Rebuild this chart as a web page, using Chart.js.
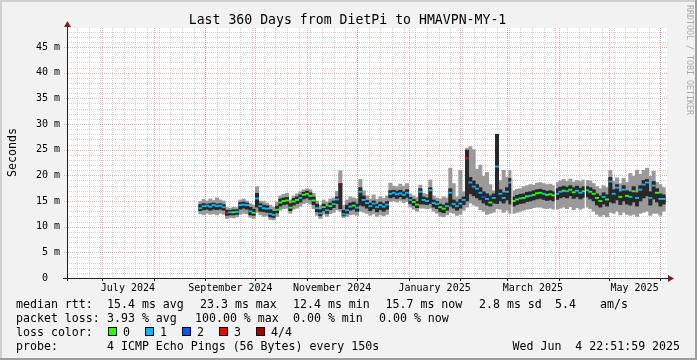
<!DOCTYPE html>
<html>
<head>
<meta charset="utf-8">
<script src="https://cdn.jsdelivr.net/npm/chart.js@4.4.1/dist/chart.umd.min.js"></script>
<style>
  html, body { margin: 0; padding: 0; background: #f2f2f2; }
  canvas { display: block; }
</style>
</head>
<body>
<canvas id="smoke" width="697" height="360"></canvas>
<script>
// ---- data ----
const title = 'Last 360 Days from DietPi to HMAVPN-MY-1';
const rangeStart = Date.UTC(2024, 5, 9, 22, 52);   // 360 days before Jun 4 2025 22:52
const rangeDays = 360;
const firstBinDay = 79;   // first bin with data, days after rangeStart
const binDays = 2;

// median rtt per 2-day bin, in ms
const median = [
  13.6,14.0,14.1,13.9,14.2,14.0,14.1,13.8,12.7,12.8,
  12.8,12.9,14.2,14.3,14.2,13.0,12.7,15.5,14.0,13.6,
  13.5,12.5,12.3,13.3,14.7,15.0,15.1,13.7,14.9,15.2,
  15.6,16.2,16.4,16.0,15.1,13.6,12.6,13.8,13.2,14.0,
  14.4,15.3,18.2,12.4,13.2,13.9,14.1,13.7,16.8,15.2,
  14.6,14.0,14.5,13.8,14.2,13.9,14.3,16.4,16.6,16.3,
  16.5,16.2,16.6,15.2,14.8,14.3,16.8,15.2,15.0,17.1,
  14.6,14.4,13.8,13.5,14.0,16.6,14.4,14.0,14.5,15.2,
  23.3,18.6,17.8,17.4,16.6,15.8,15.4,14.7,15.6,21.7,
  16.4,15.6,16.8,18.6,15.0,15.3,15.5,15.6,15.9,16.0,
  16.2,16.5,16.6,16.4,16.2,16.3,16.1,16.4,16.8,17.0,
  16.9,17.2,16.7,17.0,16.6,16.9,17.1,16.8,16.4,15.6,
  15.0,15.8,15.3,18.8,16.4,17.6,15.8,17.2,16.0,15.8,
  16.9,15.6,17.2,18.2,18.6,15.6,18.0,16.6,15.4,15.4
];
// outer (light) smoke
const smokeLo = [
  12.5,12.3,12.6,12.4,12.5,12.3,12.6,12.4,11.6,11.8,
  11.7,11.9,12.4,12.6,12.5,11.8,11.6,12.8,12.3,12.0,
  12.1,11.4,11.3,12.0,13.2,13.5,13.6,12.6,13.4,13.6,
  14.0,14.5,14.7,14.4,13.5,12.2,11.6,12.4,12.0,12.5,
  12.8,13.3,13.0,11.8,12.0,12.3,12.4,12.2,13.0,12.8,
  12.6,12.2,12.5,12.0,12.3,12.1,12.4,14.9,15.0,14.8,
  15.1,14.7,14.9,13.8,13.4,13.0,13.6,13.6,13.5,13.6,
  13.0,12.6,12.0,11.9,12.3,12.8,12.6,12.2,12.4,13.2,
  13.8,14.6,14.2,14.0,13.3,13.0,12.4,12.6,12.8,13.5,
  13.4,12.8,13.2,12.6,12.6,12.8,13.0,13.2,13.4,13.5,
  13.7,13.8,13.8,13.6,13.5,13.6,13.4,13.4,13.6,13.8,
  13.5,13.9,13.3,13.7,13.4,13.6,13.8,13.5,13.0,12.4,
  12.0,12.3,11.9,12.8,12.6,13.0,12.3,12.8,12.4,12.2,
  12.4,12.0,12.6,12.8,13.0,12.2,12.6,12.6,12.2,13.0
];
const smokeHi = [
  14.9,15.3,15.0,15.4,15.1,15.6,15.2,15.0,13.7,13.6,
  13.8,13.7,15.2,15.4,15.0,14.5,14.2,17.8,15.0,14.9,
  14.6,14.2,13.8,14.8,16.0,16.3,16.5,15.2,16.0,16.4,
  16.8,17.2,17.4,17.2,16.5,15.0,14.2,15.2,14.8,15.4,
  15.6,16.9,20.9,14.2,15.2,15.8,15.6,15.4,19.2,17.0,
  16.0,15.4,16.2,15.3,15.8,15.5,16.0,18.5,17.9,17.8,
  18.3,17.9,18.4,16.4,16.0,15.7,18.1,16.5,16.3,19.1,
  16.0,15.6,15.4,15.8,15.6,21.4,18.4,15.8,21.0,16.8,
  25.3,25.6,25.0,21.2,22.0,19.8,20.6,18.2,17.0,28.0,
  19.0,21.0,19.6,21.0,17.0,17.3,17.4,17.8,18.0,18.2,
  18.1,18.5,18.6,18.4,18.2,18.3,18.0,18.6,18.9,19.2,
  18.8,19.3,18.7,19.0,18.8,19.1,19.0,18.9,18.4,17.8,
  17.4,18.0,17.6,21.0,18.8,19.5,18.4,19.4,18.6,20.4,
  19.8,21.0,20.2,21.0,21.4,19.8,20.8,18.6,18.2,17.6
];
// inner (dark) smoke
const coreLo = [
  13.1,13.3,13.4,13.2,13.4,13.3,13.4,13.2,12.2,12.3,
  12.3,12.4,13.4,13.6,13.4,12.3,12.2,13.8,13.0,12.9,
  12.8,11.9,11.8,12.7,14.0,14.3,14.4,13.1,14.2,14.5,
  14.8,15.4,15.6,15.3,14.3,12.9,12.1,13.1,12.6,13.3,
  13.7,14.5,13.5,12.1,12.6,13.2,13.4,13.0,14.2,14.0,
  13.6,13.1,13.5,12.9,13.3,13.0,13.4,15.6,15.8,15.5,
  15.8,15.4,15.7,14.5,14.1,13.7,14.4,14.4,14.3,14.5,
  13.8,13.5,12.9,12.7,13.2,14.0,13.6,13.2,13.6,14.3,
  15.0,16.4,16.0,15.6,15.2,14.6,14.2,14.0,14.6,14.5,
  15.0,14.6,15.2,14.4,14.0,14.3,14.5,14.6,14.9,15.0,
  15.2,15.4,15.5,15.3,15.1,15.2,15.0,15.3,15.6,15.8,
  15.6,16.0,15.5,15.8,15.4,15.7,15.8,15.4,15.0,14.2,
  13.8,14.4,14.0,14.8,14.6,15.2,14.3,15.0,14.4,14.2,
  14.8,14.0,15.0,15.6,16.0,14.2,15.4,14.8,14.0,14.4
];
const coreHi = [
  14.3,14.5,14.4,14.5,14.6,14.4,14.5,14.3,13.2,13.2,
  13.3,13.3,14.7,14.8,14.6,13.8,13.4,16.5,14.5,14.2,
  14.1,13.3,13.0,14.0,15.4,15.6,15.7,14.5,15.5,15.8,
  16.2,16.7,16.9,16.6,15.8,14.4,13.3,14.4,13.9,14.6,
  15.0,15.8,18.4,13.2,14.2,14.6,14.8,14.4,17.6,16.0,
  15.1,14.6,15.0,14.4,14.8,14.5,14.9,17.0,17.1,16.9,
  17.1,16.8,17.2,15.7,15.3,14.9,17.4,15.8,15.6,17.6,
  15.2,14.9,14.4,14.2,14.6,17.4,15.2,14.8,15.3,15.8,
  24.9,19.6,18.9,18.2,17.6,16.8,16.4,16.0,16.4,28.0,
  17.2,16.6,17.6,19.4,15.8,16.1,16.3,16.4,16.7,16.8,
  17.0,17.2,17.3,17.1,16.9,17.0,16.8,17.4,17.7,17.9,
  17.7,18.0,17.6,17.9,17.5,17.8,17.8,17.6,17.2,16.4,
  16.0,16.6,16.2,19.6,17.2,18.2,16.8,18.0,17.0,16.8,
  17.8,16.6,18.0,19.0,19.2,16.8,18.8,17.4,16.4,16.2
];
// lost pings (of 4) per bin -> median colour
const lossCount = [
  1,1,1,1,1,1,1,1,3,1,
  0,1,1,1,1,1,0,1,1,1,
  1,1,1,0,0,0,0,0,0,0,
  1,0,0,0,0,1,1,0,1,0,
  1,1,4,1,1,1,0,1,1,1,
  1,1,1,1,1,1,1,1,1,1,
  1,1,1,1,0,0,1,1,1,1,
  1,1,0,0,1,1,1,1,1,1,
  3,1,1,1,1,2,1,0,1,1,
  1,1,1,1,0,0,1,0,0,1,
  0,0,0,1,0,0,0,1,1,0,
  1,0,0,1,1,0,1,0,0,0,
  0,1,0,1,1,1,0,1,0,1,
  0,1,1,1,1,1,1,0,1,1
];
const gapDays = [267, 293, 311];   // short outages in the data

const lossColors = ['#26ff00', '#00b8ff', '#0059ff', '#ff0000', '#a10000'];
const lossLabels = ['0', '1', '2', '3', '4/4'];

const yTicks = [0, 5, 10, 15, 20, 25, 30, 35, 40, 45];
const yMax = 48.7;
const tickMonths = [[2024, 6], [2024, 8], [2024, 10], [2025, 0], [2025, 2], [2025, 4]];
const tickLabels = ['July 2024', 'September 2024', 'November 2024', 'January 2025', 'March 2025', 'May 2025'];

// legend rows: [baseline, [[x, text], ...]]
const legendRows = [
  [307.7, [[16, 'median rtt:'], [107, '15.4 ms avg'], [200, '23.3 ms max'], [293, '12.4 ms min'],
           [385.5, '15.7 ms now'], [479, '2.8 ms sd'], [555, '5.4'], [600, 'am/s']]],
  [321.8, [[16, 'packet loss:'], [107, '3.93 % avg'], [195, '100.00 % max'], [293, '0.00 % min'],
           [379, '0.00 % now']]],
  [335.9, [[16, 'loss color:']]],
  [350, [[16, 'probe:'], [107, '4 ICMP Echo Pings (56 Bytes) every 150s'], [512.5, 'Wed Jun  4 22:51:59 2025']]]
];

// ---- helpers ----
const dayOf = (y, m, d) => (Date.UTC(y, m, d) - rangeStart) / 864e5;
const binCenter = i => firstBinDay + binDays * i + binDays / 2;
const labelDays = tickMonths.map(([y, m]) => (dayOf(y, m, 1) + dayOf(y, m + 1, 1)) / 2);

const monthDays = [];
for (let k = 1; k <= 12; k++) monthDays.push(dayOf(2024, 5 + k, 1));
const weekDays = [];
for (let d = dayOf(2024, 5, 16); d < rangeDays; d += 7) weekDays.push(d);

const MONO = '"DejaVu Sans Mono", monospace';
const binPx = 600 / rangeDays * binDays;

const smokeFrame = {
  id: 'smokeFrame',
  beforeDraw(chart) {
    const { ctx, chartArea: a, scales: { x, y } } = chart;
    ctx.save();
    ctx.fillStyle = '#f2f2f2';
    ctx.fillRect(0, 0, 697, 360);
    ctx.fillStyle = '#cfcfcf';
    ctx.fillRect(0, 0, 697, 2);
    ctx.fillRect(0, 0, 2, 360);
    ctx.fillStyle = '#9e9e9e';
    ctx.fillRect(0, 358, 697, 2);
    ctx.fillRect(695, 0, 2, 360);
    ctx.fillStyle = '#ffffff';
    ctx.fillRect(a.left, a.top, a.right - a.left, a.bottom - a.top);

    ctx.lineWidth = 1;
    ctx.setLineDash([1, 1]);
    const hline = (v, x0) => {
      const py = Math.round(y.getPixelForValue(v)) + 0.5;
      ctx.beginPath(); ctx.moveTo(x0, py); ctx.lineTo(a.right, py); ctx.stroke();
    };
    const vline = d => {
      const px = Math.round(x.getPixelForValue(d)) + 0.5;
      ctx.beginPath(); ctx.moveTo(px, a.top); ctx.lineTo(px, a.bottom); ctx.stroke();
    };
    ctx.strokeStyle = 'rgba(143,143,143,0.38)';
    for (let v = 1; v < yMax; v++) if (v % 5) hline(v, a.left);
    weekDays.forEach(vline);
    ctx.strokeStyle = 'rgba(230,70,70,0.42)';
    yTicks.slice(1).forEach(v => hline(v, a.left - 3));
    monthDays.forEach(vline);
    ctx.restore();
  },
  afterDatasetsDraw(chart) {
    const { ctx, chartArea: a, scales: { x } } = chart;
    ctx.save();
    ctx.strokeStyle = 'rgb(31,31,31)';
    ctx.lineWidth = 1;
    ctx.beginPath();
    ctx.moveTo(a.left - 4, a.bottom + 0.5); ctx.lineTo(a.right + 2, a.bottom + 0.5);
    ctx.moveTo(a.left + 0.5, a.bottom + 3); ctx.lineTo(a.left + 0.5, a.top - 1);
    monthDays.forEach(d => {
      const px = Math.round(x.getPixelForValue(d)) + 0.5;
      ctx.moveTo(px, a.bottom); ctx.lineTo(px, a.bottom + 3);
    });
    ctx.stroke();
    ctx.fillStyle = 'rgb(128,31,31)';
    ctx.beginPath();
    ctx.moveTo(a.right + 1, a.bottom - 3); ctx.lineTo(a.right + 7, a.bottom + 0.5); ctx.lineTo(a.right + 1, a.bottom + 4);
    ctx.closePath(); ctx.fill();
    ctx.beginPath();
    ctx.moveTo(a.left - 3, a.top - 1); ctx.lineTo(a.left + 0.5, a.top - 7); ctx.lineTo(a.left + 4, a.top - 1);
    ctx.closePath(); ctx.fill();
    ctx.restore();
  },
  afterDraw(chart) {
    const { ctx } = chart;
    ctx.save();
    ctx.fillStyle = '#000';
    ctx.textBaseline = 'alphabetic';
    ctx.textAlign = 'center';
    ctx.font = '13.2px ' + MONO;
    ctx.fillText(title, 347.5, 24);

    ctx.font = '11.6px ' + MONO;
    ctx.save();
    ctx.translate(16, 152.5);
    ctx.rotate(-Math.PI / 2);
    ctx.fillText('Seconds', 0, 0);
    ctx.restore();

    ctx.save();
    ctx.fillStyle = '#a8a8a8';
    ctx.font = '8.3px ' + MONO;
    ctx.translate(686.5, 60);
    ctx.rotate(Math.PI / 2);
    ctx.fillText('RRDTOOL / TOBI OETIKER', 0, 0);
    ctx.restore();

    ctx.textAlign = 'left';
    ctx.font = '11.6px ' + MONO;
    legendRows.forEach(([by, parts]) => parts.forEach(([tx, t]) => ctx.fillText(t, tx, by)));
    lossLabels.forEach((lbl, i) => {
      const bx = 108 + 37 * i;
      ctx.fillStyle = lossColors[i];
      ctx.fillRect(bx, 327, 8, 8);
      ctx.strokeStyle = '#000';
      ctx.lineWidth = 1;
      ctx.strokeRect(bx + 0.5, 327.5, 8, 8);
      ctx.fillStyle = '#000';
      ctx.fillText(lbl, bx + 15, 335.9);
    });
    ctx.restore();
  }
};

const floatBars = (lo, hi) => lo.map((v, i) => ({ x: binCenter(i), y: [v, hi[i]] }));

new Chart(document.getElementById('smoke'), {
  type: 'bar',
  data: {
    datasets: [
      {
        label: 'gaps',
        data: gapDays.map(d => ({ x: d, y: [10, 23] })),
        backgroundColor: '#ffffff',
        barThickness: 1.2,
        inflateAmount: 0,
        order: 1
      },
      {
        label: 'median rtt',
        data: median.map((v, i) => ({ x: binCenter(i), y: [v - 0.12, v + 0.12] })),
        backgroundColor: lossCount.map(n => lossColors[n]),
        barThickness: binPx,
        order: 2
      },
      {
        label: 'core smoke',
        data: floatBars(coreLo, coreHi),
        backgroundColor: '#282828',
        barThickness: binPx,
        order: 3
      },
      {
        label: 'smoke',
        data: floatBars(smokeLo, smokeHi),
        backgroundColor: '#9a9a9a',
        barThickness: binPx,
        order: 4
      }
    ]
  },
  options: {
    responsive: false,
    animation: false,
    devicePixelRatio: 1,
    layout: { padding: { left: 8, top: 28, right: 30, bottom: 0 } },
    datasets: {
      bar: { grouped: false, barPercentage: 1, categoryPercentage: 1, borderWidth: 0, borderSkipped: false }
    },
    plugins: { legend: { display: false }, tooltip: { enabled: false }, title: { display: false } },
    scales: {
      x: {
        type: 'linear', min: 0, max: rangeDays, offset: false,
        grid: { display: false, drawTicks: false },
        border: { display: false },
        afterBuildTicks: s => { s.ticks = labelDays.map(v => ({ value: v })); },
        afterFit: s => { s.height = 82; },
        ticks: {
          autoSkip: false, maxRotation: 0, minRotation: 0, padding: 4, color: '#000',
          font: { family: MONO, size: 10 },
          callback: (v, i) => tickLabels[i]
        }
      },
      y: {
        type: 'linear', min: 0, max: yMax, stacked: false,
        grid: { display: false, drawTicks: false },
        border: { display: false },
        afterBuildTicks: s => { s.ticks = yTicks.map(v => ({ value: v })); },
        afterFit: s => { s.width = 59; },
        ticks: {
          padding: 7, color: '#000',
          font: { family: MONO, size: 10 },
          callback: v => (v === 0 ? '0  ' : v + ' m')
        }
      }
    }
  },
  plugins: [smokeFrame]
});
</script>
</body>
</html>
